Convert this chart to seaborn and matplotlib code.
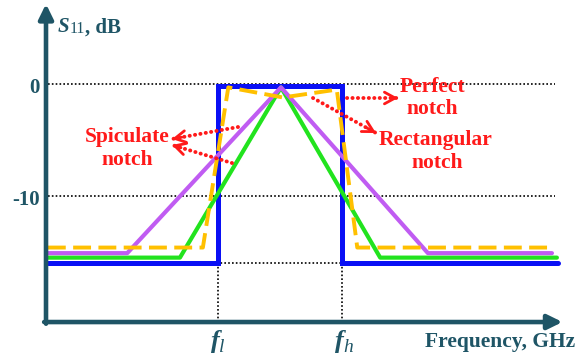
import matplotlib
matplotlib.use("Agg")
import matplotlib.pyplot as plt
import pandas as pd
import seaborn as sns

# ---------------- data (frequency in arbitrary units, S11 in dB) ----------------
f_low, f_high = 2.78, 4.78

rect_x = [0.03, 2.78, 2.78, 4.78, 4.78, 8.26]          # rectangular notch (blue)
rect_y = [-16.0, -16.0, -0.2, -0.2, -16.0, -16.0]

spic1_x = [0.03, 2.16, 3.79, 5.39, 8.24]               # spiculate notch (green)
spic1_y = [-15.5, -15.5, -0.3, -15.5, -15.5]

spic2_x = [0.03, 1.31, 3.79, 6.16, 8.16]               # spiculate notch (purple)
spic2_y = [-15.1, -15.1, -0.3, -15.1, -15.1]

perf_x = [0.03, 2.53, 2.94, 3.82, 4.69, 5.02, 8.10]    # perfect notch (yellow dashed)
perf_y = [-14.6, -14.6, -0.3, -1.2, -0.5, -14.6, -14.6]

grid_levels = [0, -10, -16]
ytick_vals = [0, -10]
ytick_labels = ["0", "-10"]
xtick_vals = [f_low, f_high]
xtick_subs = ["l", "h"]

# ---------------- styling ----------------
sns.set_theme(style="white")
plt.rcParams["font.family"] = ["Liberation Serif", "DejaVu Serif"]

TEAL = "#1f5566"
RED = "#ff1a1a"
XMIN, XMAX = -0.742, 8.548
YMIN, YMAX = -24.55, 7.5
Y_AX = -21.25

fig = plt.figure(figsize=(5.76, 3.59), dpi=100)
ax = fig.add_axes([0, 0, 1, 1])
ax.set_xlim(XMIN, XMAX)
ax.set_ylim(YMIN, YMAX)
ax.axis("off")

# grid lines
for g in grid_levels:
    ax.plot([0.03, 8.21], [g, g], color="black", lw=1.2, ls=(0, (1, 1.3)), zorder=1)
for fx in xtick_vals:
    ax.plot([fx, fx], [-16, Y_AX], color="black", lw=1.2, ls=(0, (1, 1.3)), zorder=1)

# curves
df_rect = pd.DataFrame({"f": rect_x, "s": rect_y})
df_g = pd.DataFrame({"f": spic1_x, "s": spic1_y})
df_p = pd.DataFrame({"f": spic2_x, "s": spic2_y})
df_y = pd.DataFrame({"f": perf_x, "s": perf_y})

sns.lineplot(data=df_rect, x="f", y="s", sort=False, estimator=None, color="#0a10f5",
             lw=3.6, ax=ax, zorder=3, solid_joinstyle="miter")
sns.lineplot(data=df_g, x="f", y="s", sort=False, estimator=None, color="#22e31e",
             lw=3.0, ax=ax, zorder=4)
sns.lineplot(data=df_p, x="f", y="s", sort=False, estimator=None, color="#c05cf2",
             lw=3.0, ax=ax, zorder=5)
sns.lineplot(data=df_y, x="f", y="s", sort=False, estimator=None, color="#ffc000",
             lw=2.8, ax=ax, zorder=6)
ax.lines[-1].set_dashes((4.6, 1.9))

# axes with arrows
for xy, xytext in [((0, 7.15), (0, Y_AX - 0.15)), ((8.33, Y_AX), (-0.03, Y_AX))]:
    ax.annotate("", xy=xy, xytext=xytext,
                arrowprops=dict(arrowstyle="-|>,head_length=0.55,head_width=0.27",
                                color=TEAL, lw=3.3, shrinkA=0, shrinkB=0, mutation_scale=16),
                zorder=7)

# tick labels
for v, lab in zip(ytick_vals, ytick_labels):
    ax.text(-0.1, v - 0.35, lab, ha="right", va="center", fontsize=15,
            fontweight="bold", color=TEAL)
for v, sub in zip(xtick_vals, xtick_subs):
    tf = ax.text(v - 0.05, -23.55, "f", ha="center", va="baseline", fontsize=19,
                 fontstyle="italic", fontweight="bold", color=TEAL)
    ax.annotate(sub, xy=(0.95, 0.03), xycoords=tf, ha="left", va="baseline",
                fontsize=14, fontstyle="italic", color=TEAL)

# axis titles
t1 = ax.text(0.19, 4.6, "S", ha="left", va="baseline", fontsize=15, fontstyle="italic",
             fontweight="bold", color=TEAL)
t2 = ax.annotate("11", xy=(1, 0), xycoords=t1, xytext=(0.5, 0), textcoords="offset points",
                 ha="left", va="bottom", fontsize=11.5, color=TEAL)
ax.annotate(", dB", xy=(1, 0), xycoords=t2, ha="left", va="bottom", fontsize=15,
            fontweight="bold", color=TEAL)
ax.text(8.53, -23.45, "Frequency, GHz", ha="right", va="baseline", fontsize=15.5,
        fontweight="bold", color=TEAL)

# annotations
def px2d(px, py):
    return ((px - 46) / 62.0, (84 - py) / 11.2)

tk = dict(fontsize=15.5, fontweight="bold", color=RED, ha="center", va="baseline")
labels = [("Perfect", 432, 92), ("notch", 432, 114),
          ("Rectangular", 436, 145), ("notch", 437, 168),
          ("Spiculate", 127, 142), ("notch", 127, 165)]
for s, px, py in labels:
    x, y = px2d(px, py)
    ax.text(x, y, s, **tk)

arrows = [((347, 98), (398, 98)),
          ((313, 98), (376, 133)),
          ((238, 127), (172, 139)),
          ((232, 163), (172, 145))]
for (sx, sy), (ex, ey) in arrows:
    (x0, y0), (x1, y1) = px2d(sx, sy), px2d(ex, ey)
    ax.plot([x0, x1], [y0, y1], color=RED, lw=2.8, ls=(0, (0.05, 1.35)),
            dash_capstyle="round", zorder=8)
    xm, ym = x0 + 0.85 * (x1 - x0), y0 + 0.85 * (y1 - y0)
    ax.annotate("", xy=(x1, y1), xytext=(xm, ym),
                arrowprops=dict(arrowstyle="->,head_length=0.55,head_width=0.3",
                                color=RED, lw=2.0, shrinkA=0, shrinkB=0,
                                mutation_scale=14),
                zorder=8)

fig.savefig("out.png", dpi=100)
